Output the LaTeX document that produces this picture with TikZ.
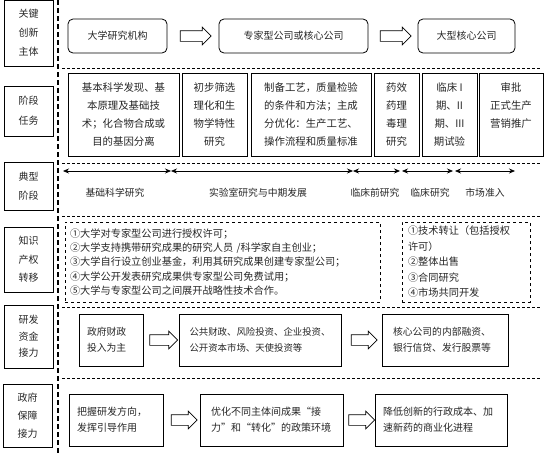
\documentclass[tikz,border=0pt]{standalone}
\usepackage{fontspec}
\newfontfamily\cjk{Noto Sans CJK SC}
\usetikzlibrary{arrows.meta,shapes.arrows,calc}
\begin{document}
\begin{tikzpicture}[x=1pt,y=-1pt,
  every node/.style={text=black!85},
  lab/.style={draw, line width=0.8pt, minimum width=49pt, align=center, inner sep=0pt},
  rbox/.style={draw, rounded corners=5pt, line width=0.8pt, minimum height=34pt, inner sep=0pt, font=\cjk\fontsize{10}{12}\selectfont},
  tbox/.style={draw, line width=0.8pt, minimum height=83pt, inner sep=0pt, align=center, font=\cjk\fontsize{10.4}{18}\selectfont},
  stage/.style={inner sep=0pt, font=\cjk\fontsize{9.8}{12}\selectfont},
  kbox/.style={draw, dashed, line width=0.6pt, minimum height=80pt, inner sep=0pt, align=left},
  fbox/.style={draw, line width=0.8pt, minimum height=52pt, inner sep=0pt, align=left, font=\cjk\fontsize{9.8}{16}\selectfont},
  harrow/.style={single arrow, draw, line width=0.7pt, inner xsep=0pt, inner ysep=5pt, single arrow head extend=3.5pt, minimum height=#1},
  hdash/.style={line width=0.6pt, dash pattern=on 3pt off 2pt},
  dbl/.style={line width=0.7pt, {Stealth[length=6pt,width=5pt]}-{Stealth[length=6pt,width=5pt]}}
]
\useasboundingbox (0,0) rectangle (548,453);

% vertical dashed separator and horizontal dashed lines
\draw[line width=1.6pt, dash pattern=on 5pt off 3pt] (58,0) -- (58,453);
\draw[hdash] (62,68) -- (540,68);
\draw[hdash] (62,163) -- (540,163);
\draw[hdash] (62,216) -- (540,216);
\draw[hdash] (62,307) -- (540,307);
\draw[hdash] (62,378) -- (540,378);

% left labels
\node[lab, minimum height=66pt, font=\cjk\fontsize{10}{19}\selectfont] (L1) at (28.5,33) {关键\\创新\\主体};
\node[lab, minimum height=50pt, font=\cjk\fontsize{10}{20}\selectfont] (L2) at (28.5,111) {阶段\\任务};
\node[lab, minimum height=48pt, font=\cjk\fontsize{10}{19}\selectfont] (L3) at (28.5,186) {典型\\阶段};
\node[lab, minimum height=65pt, font=\cjk\fontsize{10}{18.5}\selectfont] (L4) at (28.5,259.5) {知识\\产权\\转移};
\node[lab, minimum height=63pt, font=\cjk\fontsize{10}{16.5}\selectfont] (L5) at (28.5,336.5) {研发\\资金\\接力};
\node[lab, minimum height=63pt, font=\cjk\fontsize{10}{18}\selectfont] (L6) at (27.5,415.5) {政府\\保障\\接力};

% row 1: innovation subjects
\node[rbox, minimum width=99pt] (b1) at (117.5,36) {大学研究机构};
\node[rbox, minimum width=149pt] (b2) at (293.5,36) {专家型公司或核心公司};
\node[rbox, minimum width=97pt] (b3) at (466.5,36) {大型核心公司};
\node[harrow=31pt] (a1) at ($(b1.east)!0.5!(b2.west)$) {};
\node[harrow=31pt] (a2) at ($(b2.east)!0.5!(b3.west)$) {};

% row 2: stage tasks
\node[tbox, minimum width=111pt] (t1) at (123.5,114.5) {基本科学发现、基\\本原理及基础技\\术；化合物合成或\\目的基因分离};
\node[tbox, minimum width=65pt] (t2) at (214.5,114.5) {初步筛选\\理化和生\\物学特性\\研究};
\node[tbox, minimum width=120pt] (t3) at (311,114.5) {制备工艺，质量检验\\的条件和方法；主成\\分优化：生产工艺、\\操作流程和质量标准};
\node[tbox, minimum width=45pt] (t4) at (396.5,114.5) {药效\\药理\\毒理\\研究};
\node[tbox, minimum width=55pt] (t5) at (449.5,114.5) {临床 I\\期、II\\期、III\\期试验};
\node[tbox, minimum width=64pt] (t6) at (511,114.5) {审批\\正式生产\\营销推广\\\mbox{}};

% row 3: typical stages
\coordinate (s0) at (63,171);
\coordinate (s1) at (171,171);
\coordinate (s2) at (353,171);
\coordinate (s3) at (400,171);
\coordinate (s3b) at (402,171);
\coordinate (s4) at (453,171);
\coordinate (s4b) at (455,171);
\coordinate (s5) at (515,171);
\draw[dbl] (s0) -- (s1);
\draw[dbl] (s1) -- (s2);
\draw[dbl] (s2) -- (s3);
\draw[dbl] (s3b) -- (s4);
\draw[dbl] (s4b) -- (s5);
\node[stage] (n1) at (115,193) {基础科学研究};
\node[stage] (n2) at (258,193) {实验室研究与中期发展};
\node[stage] (n3) at (375,193) {临床前研究};
\node[stage] (n4) at (430,193) {临床研究};
\node[stage] (n5) at (485,193) {市场准入};

% row 4: IP transfer
\node[kbox, minimum width=315pt, text width=305pt, font=\cjk\fontsize{10.2}{14.3}\selectfont] (k1) at (222.5,262) {①大学对专家型公司进行授权许可；\\②大学支持携带研究成果的研究人员 /科学家自主创业；\\③大学自行设立创业基金，利用其研究成果创建专家型公司；\\④大学公开发表研究成果供专家型公司免费试用；\\⑤大学与专家型公司之间展开战略性技术合作。};
\node[kbox, minimum width=128pt, text width=116pt, font=\cjk\fontsize{10.2}{15.5}\selectfont] (k2) at (466,262) {①技术转让（包括授权\\许可）\\②整体出售\\③合同研究\\④市场共同开发};

% row 5: R&D funding relay
\node[fbox, minimum width=64pt, text width=48pt] (f1) at (111,340) {政府财政\\投入为主};
\node[fbox, minimum width=162pt, text width=141pt, font=\cjk\fontsize{9.4}{16}\selectfont] (f2) at (260,340) {公共财政、风险投资、企业投资、\\公开资本市场、天使投资等};
\node[fbox, minimum width=126pt, text width=104pt] (f3) at (445,340) {核心公司的内部融资、\\银行信贷、发行股票等};
\node[harrow=28pt] (fa1) at ($(f1.east)!0.5!(f2.west)$) {};
\node[harrow=26pt] (fa2) at ($(f2.east)!0.5!(f3.west)$) {};

% row 6: government support relay
\node[fbox, minimum width=94pt, text width=78pt, font=\cjk\fontsize{10}{16}\selectfont] (g1) at (116,420) {把握研发方向，\\发挥引导作用};
\node[fbox, minimum width=143pt, text width=121pt, font=\cjk\fontsize{10}{16}\selectfont] (g2) at (271.5,420) {优化不同主体间成果“接\\力”和“转化”的政策环境};
\node[fbox, minimum width=132pt, text width=116pt, font=\cjk\fontsize{10}{16}\selectfont] (g3) at (441,420) {降低创新的行政成本、加\\速新药的商业化进程};
\node[harrow=26pt] (ga1) at ($(g1.east)!0.5!(g2.west)$) {};
\node[harrow=26pt] (ga2) at ($(g2.east)!0.5!(g3.west)$) {};
\end{tikzpicture}
\end{document}
